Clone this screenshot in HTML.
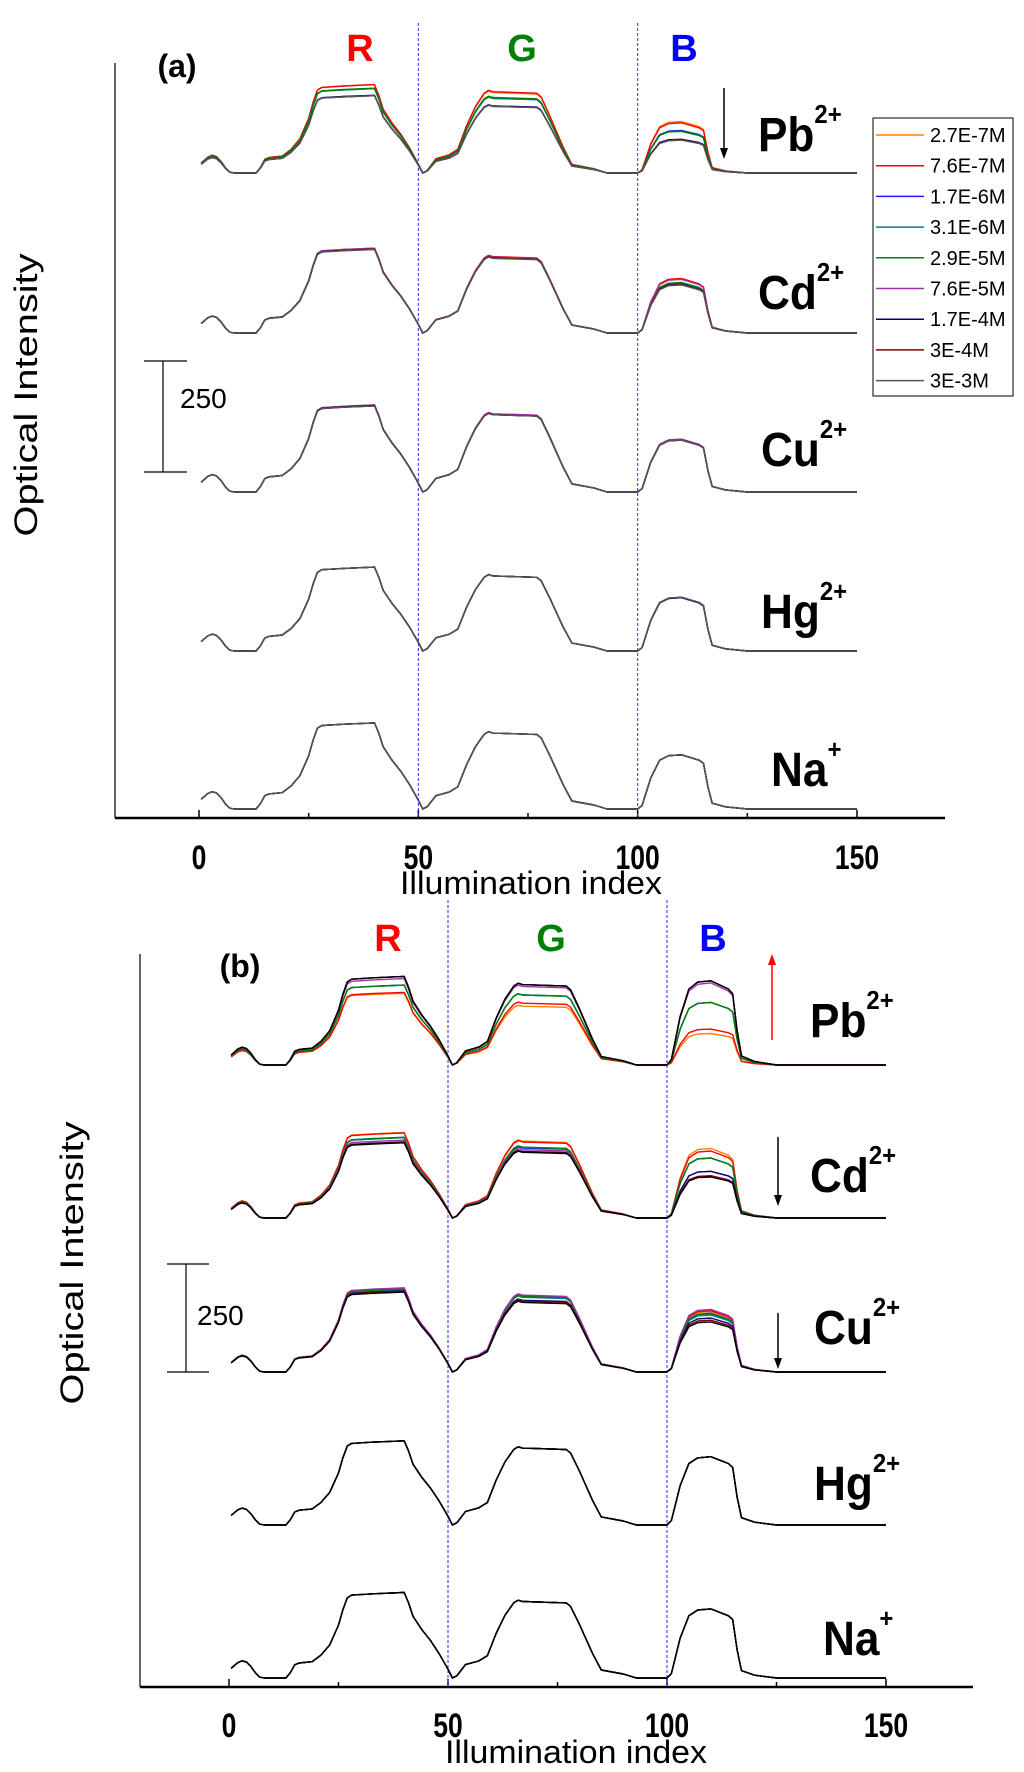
<!DOCTYPE html>
<html><head><meta charset="utf-8"><style>
html,body{margin:0;padding:0;background:#fff;}
svg{display:block;font-family:"Liberation Sans",Arial,sans-serif;}
</style></head><body>
<svg id="chart" width="1024" height="1772" viewBox="0 0 1024 1772" xmlns="http://www.w3.org/2000/svg">
<g id="static"></g>
</svg>
<script>
// ---- data ----
const concentrations = ["2.7E-7M","7.6E-7M","1.7E-6M","3.1E-6M","2.9E-5M","7.6E-5M","1.7E-4M","3E-4M","3E-3M"];
const colorsA = ["#ff8000","#ff0000","#2020ff","#008080","#008000","#9933aa","#000080","#800000","#555555"];
const colorsB = ["#ff8000","#ff0000","#2020ff","#008080","#008000","#9933aa","#000080","#800000","#000000"];
const ions = ["Pb","Cd","Cu","Hg","Na"];
const ionCharges = ["2+","2+","2+","2+","+"];
const xTicks = [0,50,100,150];
// base profile (Na+ in panel a), x = illumination index, y = intensity
const baseX = [0.5,2,3,4,5,6,7,8,13,14,15,16,19,21,23,25,26,27,28,33,40,41,42,44,46,48,50,51,52,54,57,59,61,63,65,66,67,77,78,80,83,85,90,93,100,101,103,105,107,110,114,115,116,117,120,125,150];
const baseY = [22,35,39,36,26,12,2,0,0,12,30,34,37,52,75,120,155,182,188,191,194,170,140,110,85,55,20,0,5,30,38,50,100,140,168,174,171,168,160,120,55,18,9,0,0,8,70,110,120,122,110,103,50,13,5,0,0];
const baseRef = [194,171,122];
// peak plateau [R,G,B] per concentration, per ion, panel a
const peaksA = {
 Pb:[[199,181,116],[199,183,113],[190,168,96],[190,168,94],[191,170,94],[175,151,76],[175,151,76],[174,150,74],[174,150,74]],
 Cd:[[190,171,121],[191,172,123],[190,170,110],[189,169,112],[190,170,114],[191,171,121],[189,169,110],[189,169,109],[188,168,108]],
 Cu:[[195,175,118],[196,176,119],[195,175,117],[194,174,118],[195,175,118],[196,176,119],[195,174,117],[194,174,117],[194,174,117]],
 Hg:[[189,169,121],[189,169,121],[189,169,120],[189,169,121],[189,169,121],[189,169,121],[189,169,120],[189,169,121],[189,169,121]],
 Na:[[194,171,122],[194,171,122],[194,171,122],[194,171,122],[194,171,122],[194,171,122],[194,171,122],[194,171,122],[194,171,122]]
};
const peaksB = {
 Pb:[[166,136,73],[168,143,83],[185,162,145],[185,162,145],[185,162,145],[200,182,190],[205,186,195],[205,186,195],[205,186,195]],
 Cd:[[198,178,161],[197,176,155],[186,162,139],[187,164,139],[186,164,139],[180,158,108],[176,154,108],[175,153,98],[174,152,95]],
 Cu:[[193,176,140],[194,177,142],[192,175,136],[191,173,132],[192,175,135],[195,178,145],[188,166,125],[187,164,120],[185,161,116]],
 Hg:[[195,178,158],[195,178,158],[195,178,158],[195,178,158],[195,178,158],[195,178,158],[195,178,158],[195,178,158],[195,178,158]],
 Na:[[198,177,160],[198,177,160],[198,177,160],[198,177,160],[198,177,160],[198,177,160],[198,177,160],[198,177,160],[198,177,160]]
};
</script>
<script>
const NS="http://www.w3.org/2000/svg";
const svg=document.getElementById('chart');
function mk(tag,attrs,parent){const e=document.createElementNS(NS,tag);for(const k in attrs)e.setAttribute(k,attrs[k]);(parent||svg).appendChild(e);return e;}

const panels=[
 {key:'a',peaks:peaksA,colors:colorsA,x0:199,x150:857,axisX:115,axisTop:63,axisY:818,axisRight:945,
  baselines:[173,333,492,651,809],ppu:0.444,dashTop:23,rgbY:47,rgbX:[360,522,684],tagX:177,tagY:66,
  labelPos:[[758,151],[758,309],[761,466],[761,628],[771,786]],
  bar:{x:163,top:361,bot:472,cap0:144,cap1:187,lx:180,ly:398},
  tickY:857,titleX:531,titleY:883,yTitleX:26,yTitleY:395,
  arrows:[{x:724,y1:88,y2:159,c:'#000'}],legend:true},
 {key:'b',peaks:peaksB,colors:colorsB,x0:229,x150:886,axisX:140,axisTop:954,axisY:1687,axisRight:973,
  baselines:[1065,1218,1372,1525,1678],ppu:0.432,dashTop:900,rgbY:937,rgbX:[388,551,713],tagX:240,tagY:966,
  labelPos:[[810,1037],[810,1192],[814,1344],[814,1500],[823,1655]],
  bar:{x:186,top:1264,bot:1372,cap0:167,cap1:209,lx:197,ly:1315},
  tickY:1725,titleX:576,titleY:1752,yTitleX:72,yTitleY:1263,
  arrows:[{x:772,y1:1040,y2:954,c:'#ff0000'},{x:778,y1:1137,y2:1206,c:'#000'},{x:778,y1:1313,y2:1369,c:'#000'}],legend:false}
];

panels.forEach(p=>{
 const g=mk('g',{});
 
 
 const sx=v=>p.x0+(p.x150-p.x0)*v/150;
 const ya=mk('line',{x1:p.axisX,y1:p.axisTop,x2:p.axisX,y2:p.axisY,stroke:'#000','stroke-width':1.2},g);
 
 
 const xa=mk('line',{x1:p.axisX,y1:p.axisY,x2:p.axisRight,y2:p.axisY,stroke:'#000','stroke-width':2.5},g);
 
 
 for(let v=0;v<=150;v+=25){
  const major=v%50===0;
  const t=mk('line',{x1:sx(v),y1:p.axisY,x2:sx(v),y2:p.axisY-(major?8:5),stroke:'#000','stroke-width':1.5},g);
  
  
 }
 xTicks.forEach(v=>{
  const t=mk('text',{x:sx(v),y:p.tickY+12,'text-anchor':'middle','font-size':34,'font-weight':'bold',transform:`translate(${sx(v)},0) scale(0.78,1) translate(${-sx(v)},0)`},g);
  t.textContent=v;
  
  
 });
 const tt=mk('text',{x:p.titleX,y:p.titleY+11,'text-anchor':'middle','font-size':32,textLength:262,lengthAdjust:'spacingAndGlyphs'},g);
 tt.textContent='Illumination index';
 
 
 const yt=mk('text',{x:0,y:0,'text-anchor':'middle','font-size':32,textLength:283,lengthAdjust:'spacingAndGlyphs',transform:`translate(${p.yTitleX+11},${p.yTitleY}) rotate(-90)`},g);
 yt.textContent='Optical Intensity';
 
 
 [50,100].forEach(v=>{
  const d=mk('line',{x1:sx(v),y1:p.dashTop,x2:sx(v),y2:p.axisY,stroke:'#2a2aff','stroke-width':1,'stroke-dasharray':'3,2'},g);
  
  
 });
 [['R','#ff0000'],['G','#008000'],['B','#0000ff']].forEach((r,i)=>{
  const t=mk('text',{x:p.rgbX[i],y:p.rgbY+14,'text-anchor':'middle','font-size':38,'font-weight':'bold',fill:r[1]},g);
  t.textContent=r[0];
  
  
 });
 const tag=mk('text',{x:p.tagX,y:p.tagY+11,'text-anchor':'middle','font-size':32,'font-weight':'bold'},g);
 tag.textContent='('+p.key+')';
 
 
 const b=p.bar;
 [[b.x,b.top,b.x,b.bot],[b.cap0,b.top,b.cap1,b.top],[b.cap0,b.bot,b.cap1,b.bot]].forEach(s=>{
  const l=mk('line',{x1:s[0],y1:s[1],x2:s[2],y2:s[3],stroke:'#000','stroke-width':1.2},g);
  
  
 });
 const bl=mk('text',{x:b.lx,y:b.ly+10,'font-size':28},g);
 bl.textContent='250';
 
 
 ions.forEach((ion,ii)=>{
  const base=p.baselines[ii];
  const pk=p.peaks[ion];
  pk.forEach((peak,si)=>{
   const pts=baseX.map((x,k)=>{
    const reg=x<50.5?0:(x<100.5?1:2);
    const v=baseY[k]*peak[reg]/baseRef[reg];
    return sx(x).toFixed(1)+','+(base-v*p.ppu).toFixed(1);
   }).join(' ');
   const pl=mk('polyline',{points:pts,fill:'none',stroke:p.colors[si],'stroke-width':1.4,'stroke-linejoin':'round'},g);
   
   
  });
  const lp=p.labelPos[ii];
  const lt=mk('text',{x:lp[0],y:lp[1],'font-size':48,'font-weight':'bold',transform:`translate(${lp[0]},0) scale(0.92,1) translate(${-lp[0]},0)`},g);
  lt.textContent=ion;
  const ts=mk('tspan',{dy:-28,'font-size':26},lt);
  ts.textContent=ionCharges[ii];
  
  
 });
 p.arrows.forEach(a=>{
  const dir=a.y2>a.y1?1:-1;
  const l=mk('line',{x1:a.x,y1:a.y1,x2:a.x,y2:a.y2-dir*8,stroke:a.c,'stroke-width':1.5},g);
  
  
  const h=mk('polygon',{points:`${a.x-4},${a.y2-dir*11} ${a.x+4},${a.y2-dir*11} ${a.x},${a.y2}`,fill:a.c},g);
  
  
 });
 if(p.legend){
  const lg=mk('g',{},g);
  
  
  mk('rect',{x:873,y:118,width:140,height:278,fill:'#fff',stroke:'#000','stroke-width':1},lg);
  concentrations.forEach((c,i)=>{
   const y=135+i*30.7;
   const e=mk('g',{},lg);
   
   
   mk('line',{x1:876,y1:y,x2:924,y2:y,stroke:colorsA[i],'stroke-width':1.5},e);
   const t=mk('text',{x:930,y:y+7,'font-size':20},e);
   t.textContent=c;
  });
 }
});
</script>
</body></html>
